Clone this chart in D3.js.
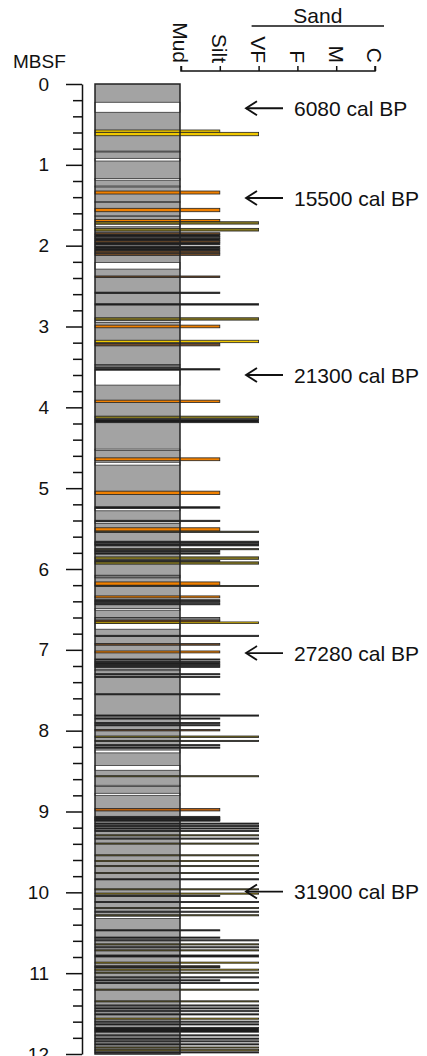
<!DOCTYPE html>
<html><head><meta charset="utf-8">
<script src="https://cdn.jsdelivr.net/npm/d3@7"></script>
<style>
html,body{margin:0;padding:0;background:#fff;}
svg{display:block;font-family:"Liberation Sans",Arial,sans-serif;}
</style></head>
<body><svg id="c" width="427" height="1056"></svg>
<script>
// ---------- data ----------
const depthTickLabels = [0,1,2,3,4,5,6,7,8,9,10,11,12];
const grainClasses = ["Mud","Silt","VF","F","M","C"];
const sandClasses = ["VF","F","M","C"];
const ageLabels = ["6080 cal BP","15500 cal BP","21300 cal BP","27280 cal BP","31900 cal BP"];
const ageDepths = [0.30, 1.41, 3.60, 7.04, 9.99];
// no-recovery / white intervals [top, bottom] (m)
const whiteGaps = [
 [0.226,0.35],[0.83,0.842],[0.92,0.953],[1.17,1.19],[1.262,1.275],[1.455,1.465],[1.63,1.64],[1.733,1.766],
 [1.99,2.005],[2.207,2.29],[2.93,2.95],[3.47,3.48],[3.50,3.51],[3.54,3.725],[4.517,4.535],[4.68,4.715],
 [5.25,5.28],[5.417,5.437],[6.49,6.51],[6.675,6.745],[7.245,7.258],[8.24,8.275],[8.43,8.49],
 [8.676,8.69],[8.775,8.8],[10.295,10.325]
];
// beds [top, bottom, grain class, colour key]
const beds = [
 [0.569,0.598,"Silt","Y"],[0.598,0.640,"VF","Y"],
 [1.324,1.361,"Silt","O"],[1.538,1.580,"Silt","O"],[1.675,1.704,"Silt","O"],[1.704,1.733,"VF","V"],
 [1.786,1.819,"VF","V"],
 [1.84,1.865,"Silt","B"],[1.865,1.89,"Silt","K"],[1.89,1.915,"Silt","G"],[1.915,1.94,"Silt","K"],
 [1.94,1.965,"Silt","B"],[1.965,1.99,"Silt","K"],
 [2.01,2.035,"Silt","K"],[2.04,2.06,"Silt","K"],[2.065,2.09,"Silt","B"],[2.095,2.12,"Silt","B"],
 [2.375,2.395,"Silt","B"],[2.575,2.592,"Silt","K"],[2.718,2.735,"VF","K"],[2.892,2.921,"VF","V"],
 [2.983,3.016,"Silt","O"],[3.17,3.20,"VF","Y"],[3.21,3.24,"Silt","B"],[3.522,3.538,"Silt","K"],
 [3.911,3.94,"Silt","O"],[4.109,4.137,"VF","V"],[4.15,4.19,"VF","K"],
 [4.625,4.66,"Silt","O"],[5.037,5.078,"Silt","O"],[5.23,5.248,"Silt","K"],[5.397,5.413,"Silt","K"],
 [5.49,5.53,"Silt","O"],[5.532,5.548,"VF","W"],
 [5.656,5.675,"VF","K"],[5.675,5.695,"VF","G"],[5.695,5.714,"VF","K"],
 [5.748,5.762,"VF","W"],[5.772,5.788,"Silt","K"],[5.80,5.816,"Silt","K"],[5.85,5.88,"VF","V"],
 [5.895,5.91,"Silt","K"],[5.912,5.94,"VF","V"],
 [6.077,6.11,"Mud","D"],[6.16,6.20,"Silt","O"],[6.203,6.217,"VF","W"],[6.333,6.357,"Silt","O"],
 [6.38,6.393,"Silt","K"],[6.40,6.413,"Silt","K"],[6.428,6.443,"Silt","K"],
 [6.6,6.634,"Silt","D"],[6.634,6.655,"Silt","R"],[6.655,6.675,"VF","Y"],
 [6.82,6.836,"VF","K"],[6.922,6.943,"Silt","B"],[7.014,7.038,"Silt","O"],
 [7.113,7.127,"Silt","K"],[7.143,7.157,"Silt","K"],[7.163,7.177,"Silt","K"],[7.183,7.197,"Silt","K"],
 [7.203,7.217,"Silt","K"],[7.295,7.309,"Silt","K"],[7.328,7.342,"Silt","K"],[7.543,7.557,"Silt","K"],
 [7.806,7.82,"VF","K"],[7.843,7.857,"Silt","K"],[7.898,7.912,"Silt","K"],[7.926,7.94,"Silt","K"],
 [7.986,8.003,"Silt","B"],[8.066,8.085,"VF","V"],[8.12,8.134,"VF","W"],
 [8.173,8.187,"Silt","K"],[8.203,8.217,"Silt","K"],
 [8.557,8.571,"VF","V"],[8.964,8.993,"Silt","R"],
 [9.06,9.075,"Silt","K"],[9.075,9.083,"Silt","G"],[9.083,9.098,"Silt","K"],[9.098,9.105,"Silt","G"],[9.105,9.12,"Silt","K"],
 [9.143,9.157,"VF","K"],[9.173,9.187,"VF","K"],[9.203,9.217,"VF","K"],[9.233,9.247,"VF","K"],
 [9.288,9.302,"VF","V"],[9.328,9.342,"VF","G"],[9.39,9.404,"VF","V"],
 [9.535,9.549,"VF","V"],[9.605,9.619,"VF","Y"],[9.668,9.682,"VF","V"],[9.754,9.768,"VF","V"],
 [9.832,9.846,"VF","K"],[9.956,9.97,"VF","V"],[10.009,10.023,"VF","Y"],[10.038,10.052,"Silt","K"],
 [10.113,10.127,"VF","K"],[10.187,10.201,"VF","V"],[10.233,10.247,"VF","G"],[10.277,10.291,"VF","V"],
 [10.463,10.477,"Silt","K"],[10.553,10.567,"Silt","K"],
 [10.587,10.601,"VF","G"],[10.637,10.651,"VF","V"],[10.673,10.687,"VF","G"],[10.711,10.725,"VF","V"],
 [10.775,10.80,"VF","K"],[10.863,10.877,"VF","Y"],[10.908,10.922,"Silt","B"],[10.922,10.934,"Silt","K"],
 [10.95,10.964,"VF","Y"],[10.987,11.001,"VF","V"],[11.045,11.059,"VF","G"],[11.082,11.096,"Silt","K"],
 [11.115,11.129,"VF","K"],[11.197,11.211,"VF","V"],[11.342,11.356,"VF","V"],
 [11.393,11.407,"VF","G"],[11.429,11.443,"VF","K"],[11.463,11.477,"VF","G"],[11.503,11.517,"VF","K"],
 [11.556,11.57,"VF","Y"],[11.593,11.607,"VF","G"],[11.627,11.641,"VF","K"],[11.67,11.73,"VF","K"],
 [11.763,11.777,"VF","G"],[11.803,11.817,"VF","K"],[11.837,11.851,"VF","G"],[11.874,11.888,"VF","K"],
 [11.913,11.927,"VF","V"],[11.945,11.959,"VF","Y"],[11.973,11.987,"VF","K"]
];
const colourKeys = ["Y","O","B","K","G","V","W","R","D"];
const colourValues = ["#f0c800","#f08000","#6e4a28","#1c1c1c","#4a4a4a","#857820","#55502c","#b86010","#7a7a7a"];

// ---------- drawing ----------
const svg = d3.select("#c");
const y = d3.scaleLinear().domain([0,12]).range([84,1054]);
const x = d3.scalePoint().domain(grainClasses).range([181,375]);
const colour = d3.scaleOrdinal().domain(colourKeys).range(colourValues);
const colLeft = 95, colRight = x("Mud") - 1;

// column background (mud)
svg.append("rect").attr("x",colLeft).attr("y",y(0)).attr("width",colRight-colLeft)
  .attr("height",y(12)-y(0)).attr("fill","#a3a3a3");

// white gaps
svg.append("g").selectAll("rect").data(whiteGaps).join("rect")
  .attr("x",colLeft).attr("width",colRight-colLeft)
  .attr("y",d=>y(d[0])).attr("height",d=>y(d[1])-y(d[0]))
  .attr("fill","#fff").attr("stroke","#333").attr("stroke-width",0.8);

// beds
svg.append("g").selectAll("rect").data(beds).join("rect")
  .attr("x",colLeft).attr("width",d=>x(d[2])-colLeft+ (d[2]==="Mud"?-1:0))
  .attr("y",d=>y(d[0])).attr("height",d=>Math.max(1,y(d[1])-y(d[0])))
  .attr("fill",d=>colour(d[3])).attr("stroke","#222").attr("stroke-width",0.8);

// column outline
svg.append("rect").attr("x",colLeft).attr("y",y(0)).attr("width",colRight-colLeft)
  .attr("height",y(12)-y(0)).attr("fill","none").attr("stroke","#222").attr("stroke-width",1.5);

// left depth axis
const axG = svg.append("g").attr("transform","translate(82,0)");
axG.call(d3.axisLeft(y).tickValues(depthTickLabels).tickSize(16).tickPadding(17).tickSizeOuter(0).tickFormat(d3.format("d")));
const minor = d3.range(0,12.001,0.2).filter(v=>Math.abs(v-Math.round(v))>1e-6);
svg.append("g").attr("transform","translate(82,0)")
  .call(d3.axisLeft(y).tickValues(minor).tickSize(9).tickSizeOuter(0).tickFormat(""))
  .select(".domain").remove();
svg.selectAll(".tick line,.domain").attr("stroke","#111").attr("stroke-width",1.5);
axG.selectAll(".tick text").attr("font-size",19).attr("fill","#111");
svg.append("text").attr("x",13).attr("y",68).attr("font-size",19).attr("fill","#111").text("MBSF");

// top grain-size axis
const gx = svg.append("g").attr("transform","translate(0,71)");
gx.call(d3.axisTop(x).tickSize(5).tickSizeOuter(0).tickFormat(""));
gx.selectAll(".tick line,.domain").attr("stroke","#111").attr("stroke-width",1.5);
gx.select(".domain").attr("d",`M${x("Mud")},-5V0H${x("C")}V-5`);
svg.append("g").selectAll("text").data(grainClasses).join("text")
  .attr("transform",d=>`translate(${x(d)},63) rotate(90)`)
  .attr("text-anchor","end").attr("dy","0.36em").attr("font-size",21).attr("fill","#111")
  .text(d=>d);
svg.append("line").attr("x1",x(sandClasses[0])-7).attr("x2",x(sandClasses[sandClasses.length-1])+9)
  .attr("y1",26).attr("y2",26).attr("stroke","#111").attr("stroke-width",1.5);
svg.append("text").attr("x",(x(sandClasses[0])+x(sandClasses[sandClasses.length-1]))/2+1).attr("y",23)
  .attr("text-anchor","middle").attr("font-size",21).attr("fill","#111").text("Sand");

// age annotations
const ann = svg.append("g").selectAll("g").data(ageLabels).join("g")
  .attr("transform",(d,i)=>`translate(0,${y(ageDepths[i])})`);
ann.append("line").attr("x1",246).attr("x2",283).attr("y1",0).attr("y2",0).attr("stroke","#111").attr("stroke-width",1.8);
ann.append("path").attr("d","M257,-7L246,0L257,7").attr("fill","none").attr("stroke","#111").attr("stroke-width",1.8);
ann.append("text").attr("x",294).attr("dy","0.36em").attr("font-size",21).attr("fill","#111").text(d=>d);
</script></body></html>
